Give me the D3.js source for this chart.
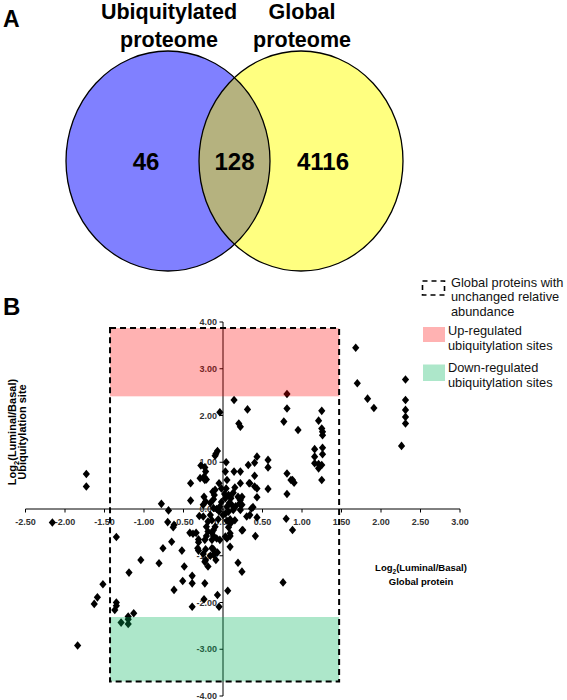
<!DOCTYPE html>
<html><head><meta charset="utf-8">
<script src="https://cdn.jsdelivr.net/npm/d3@7"></script>
<style>body{margin:0;background:#fff} svg{display:block;font-family:"Liberation Sans",Arial,sans-serif}</style>
</head><body><svg id="c" width="567" height="700"></svg>
<script>
// ---------- DATA ----------
const vennSetLabels = [["Ubiquitylated", "proteome"], ["Global", "proteome"]];
const vennCounts = [46, 128, 4116]; // only ubiquitylated, both, only global
const xTicks = [-2.5, -2, -1.5, -1, -0.5, 0, 0.5, 1, 1.5, 2, 2.5, 3];
const yTicks = [-4, -3, -2, -1, 0, 1, 2, 3, 4];
const xValues = [
 1.68,1.70,1.83,1.91,2.31,2.31,2.31,2.31,2.31,2.26,
 0.81,0.81,0.77,0.95,1.25,1.21,1.25,1.26,1.26,1.16,1.26,1.26,1.16,1.16,1.21,1.21,1.25,1.25,0.81,0.86,0.90,0.81,
 0.57,0.57,0.57,0.43,0.40,0.40,0.40,0.43,0.36,0.34,
 -0.04,0.14,0.31,0.20,0.22,
 -0.07,-0.09,-0.10,0.04,-0.28,-0.23,-0.22,-0.29,-0.21,-0.24,0.03,0.14,0.22,0.32,0.33,0.22,0.43,-0.41,-0.41,-0.05,-0.13,-0.11,-0.22,-0.16,-0.25,-0.02,0.04,0.07,0.10,0.03,0.13,0.15,0.19,0.21,0.11,0.05,-0.04,-0.08,0.00,0.07,0.13,0.22,
 -0.78,-0.69,-0.70,-0.62,-0.63,-0.16,-0.14,-0.19,-0.21,-0.10,-0.25,0.09,0.15,0.34,0.43,0.07,0.25,0.05,0.09,-0.04,-0.14,-0.12,-0.42,-0.38,-0.31,-0.23,-0.21,-0.19,0.41,-0.65,-0.76,-0.52,-0.32,-0.22,-0.25,-0.14,-0.11,0.09,0.19,-0.81,-0.49,-0.23,
 -1.73,-1.73,-2.16,-1.35,-0.23,-0.24,-0.12,-0.10,0.05,0.09,0.24,0.22,0.88,0.80,0.88,0.30,-0.12,0.03,0.09,
 -0.34,-0.30,-1.04,-1.19,-1.52,-1.59,-1.63,-1.35,-1.35,-1.37,-1.13,-1.20,-1.20,-1.29,-1.20,-1.84,-0.51,-0.39,-0.39,-0.62,-0.39,-0.23,-0.24,-0.19,-0.22,-0.31,-0.31,-0.14,-0.12,-0.12,-0.09,-0.16,-0.07,-0.08,-0.07,-0.05,0.06,0.24,0.24,0.76,0.38,0.24,0.05,0.10,
 -0.05,-0.02,0.02,0.08,-0.12,0.16,-0.06,0.03
];
const yValues = [
 3.45,2.69,2.36,2.16,2.77,2.33,2.12,1.97,1.83,1.35,
 2.46,2.15,1.87,1.69,2.10,1.89,1.72,1.65,1.58,1.28,1.31,1.17,1.12,0.98,0.96,0.87,0.94,0.62,0.76,0.62,0.56,0.32,
 1.05,0.89,0.43,1.12,0.99,0.71,0.48,0.25,0.01,0.55,
 2.07,2.33,2.13,1.83,1.76,
 1.24,1.18,1.14,1.00,0.93,0.89,0.80,0.66,0.63,0.69,0.80,0.80,0.80,0.94,0.55,0.55,0.44,0.55,0.18,0.55,0.37,0.30,0.16,0.13,0.09,0.44,0.44,0.30,0.23,0.23,0.35,0.46,0.26,0.12,0.09,0.05,0.05,0.00,-0.13,-0.06,-0.02,-0.02,
 0.11,-0.03,-0.28,-0.34,-0.39,-0.13,-0.24,-0.27,-0.38,-0.38,-0.16,-0.22,-0.24,-0.13,-0.18,-0.39,-0.45,-0.63,-0.58,-0.66,-0.51,-0.58,-0.51,-0.53,-0.65,-0.66,-0.58,-0.48,-0.58,-0.70,-0.84,-0.89,-0.84,-0.86,-0.96,-0.84,-0.96,-0.81,-1.15,-1.16,-1.23,-1.13,
 0.75,0.48,-0.29,-0.60,0.62,0.26,0.21,0.41,0.62,0.26,0.26,0.19,0.62,-0.21,-0.45,-0.16,-0.45,-0.59,-0.52,
 -0.51,-0.15,-1.09,-1.36,-1.61,-1.89,-2.03,-2.00,-2.07,-2.16,-2.23,-2.30,-2.36,-2.43,-2.46,-2.92,-1.54,-1.43,-1.59,-1.73,-2.09,-1.59,-1.93,-1.23,-1.09,-0.89,-0.71,-0.66,-0.86,-0.98,-1.09,-1.00,-0.93,-0.63,-1.84,-2.09,-1.75,-1.34,-0.46,-1.57,0.04,0.09,-0.25,-0.30,
 -0.05,0.15,0.32,0.13,0.02,0.06,-0.22,-0.10
];
const boxX = [-1.43, 1.47];   // global proteins with unchanged abundance
const boxY = [-3.69, 3.87];
const upY = [2.41, 3.87];     // up-regulated ubiquitylation sites
const downY = [-3.69, -2.31]; // down-regulated ubiquitylation sites
const legendLabels = [["Global proteins with", "unchanged relative", "abundance"], ["Up-regulated", "ubiquitylation sites"], ["Down-regulated", "ubiquitylation sites"]];

// ---------- DRAW ----------
const svg = d3.select("#c");

// Panel A: Venn
svg.append("text").attr("x", 3).attr("y", 27).attr("font-size", 23).attr("font-weight", "bold").text("A");
const vx = d3.scaleLinear().domain([0, 1]).range([168, 301]);
const cy = 161, rx = 102, ry = 110;
const defs = svg.append("defs");
defs.append("clipPath").attr("id", "clipL").append("ellipse").attr("cx", vx(0)).attr("cy", cy).attr("rx", rx).attr("ry", ry);
svg.append("ellipse").attr("cx", vx(0)).attr("cy", cy).attr("rx", rx).attr("ry", ry).attr("fill", "#8080ff");
svg.append("ellipse").attr("cx", vx(1)).attr("cy", cy).attr("rx", rx).attr("ry", ry).attr("fill", "#ffff80");
svg.append("ellipse").attr("cx", vx(1)).attr("cy", cy).attr("rx", rx).attr("ry", ry).attr("fill", "#b5b27f").attr("clip-path", "url(#clipL)");
[0, 1].forEach(i => svg.append("ellipse").attr("cx", vx(i)).attr("cy", cy).attr("rx", rx).attr("ry", ry).attr("fill", "none").attr("stroke", "#000").attr("stroke-width", 1.3));
vennSetLabels.forEach((lines, i) => {
  const t = svg.append("text").attr("text-anchor", "middle").attr("font-size", 21.5).attr("font-weight", "bold");
  lines.forEach((l, j) => t.append("tspan").attr("x", vx(i) + 1).attr("y", 19 + j * 27.5).text(l));
});
const countPos = [vx(0) - 22, (vx(0) + vx(1)) / 2, vx(1) + 22];
vennCounts.forEach((c, i) => svg.append("text").attr("x", countPos[i]).attr("y", 170).attr("text-anchor", "middle")
  .attr("font-size", 24).attr("font-weight", "bold").text(c));

// Panel B: scatter
svg.append("text").attr("x", 3).attr("y", 315).attr("font-size", 24).attr("font-weight", "bold").text("B");
const x = d3.scaleLinear().domain([-2.5, 3]).range([25.5, 460]);
const y = d3.scaleLinear().domain([-4, 4]).range([696, 322]);

const g = svg.append("g");
// axes
g.append("line").attr("x1", x(-2.5)).attr("x2", x(3)).attr("y1", y(0)).attr("y2", y(0)).attr("stroke", "#000");
g.append("line").attr("x1", x(0)).attr("x2", x(0)).attr("y1", y(4)).attr("y2", y(-4)).attr("stroke", "#000");
xTicks.forEach(v => {
  g.append("line").attr("x1", x(v)).attr("x2", x(v)).attr("y1", y(0)).attr("y2", y(0) + 3.5).attr("stroke", "#000");
  g.append("text").attr("x", x(v)).attr("y", y(0) + 16).attr("text-anchor", "middle").attr("font-size", 9).attr("font-weight", "bold").attr("fill", "#333").text(v.toFixed(2));
});
yTicks.forEach(v => {
  g.append("line").attr("x1", x(0) - 3.5).attr("x2", x(0)).attr("y1", y(v)).attr("y2", y(v)).attr("stroke", "#000");
  g.append("text").attr("x", x(0) - 6).attr("y", y(v)).attr("dy", "0.35em").attr("text-anchor", "end").attr("font-size", 9).attr("font-weight", "bold").attr("fill", "#333").text(v.toFixed(2));
});

// points
const diamond = { draw(ctx, s) { const w = 3.6, h = 4.3; ctx.moveTo(0, -h); ctx.lineTo(w, 0); ctx.lineTo(0, h); ctx.lineTo(-w, 0); ctx.closePath(); } };
g.selectAll("path.pt").data(xValues.map((v, i) => [v, yValues[i]])).join("path").attr("class", "pt")
  .attr("transform", d => `translate(${x(d[0])},${y(d[1])})`).attr("d", d3.symbol().type(diamond)).attr("fill", "#000");

// regions
g.append("rect").attr("x", x(boxX[0])).attr("width", x(boxX[1]) - x(boxX[0])).attr("y", y(upY[1])).attr("height", y(upY[0]) - y(upY[1]))
  .attr("fill", "#ff0000").attr("fill-opacity", 0.3);
g.append("rect").attr("x", x(boxX[0])).attr("width", x(boxX[1]) - x(boxX[0])).attr("y", y(downY[1])).attr("height", y(downY[0]) - y(downY[1]))
  .attr("fill", "rgb(0,180,90)").attr("fill-opacity", 0.32);
g.append("rect").attr("x", x(boxX[0])).attr("width", x(boxX[1]) - x(boxX[0])).attr("y", y(boxY[1])).attr("height", y(boxY[0]) - y(boxY[1]))
  .attr("fill", "none").attr("stroke", "#000").attr("stroke-width", 2).attr("stroke-dasharray", "6,4");

// axis titles
const yt = svg.append("text").attr("transform", "translate(16,432) rotate(-90)").attr("text-anchor", "middle").attr("font-size", 11).attr("font-weight", "bold");
yt.append("tspan").text("Log");
yt.append("tspan").attr("font-size", 7.5).attr("dy", 3).text("2");
yt.append("tspan").attr("dy", -3).text("(Luminal/Basal)");
svg.append("text").attr("transform", "translate(26,432) rotate(-90)").attr("text-anchor", "middle").attr("font-size", 11).attr("font-weight", "bold").text("Ubiquitylation site");

const xt = svg.append("text").attr("x", 421).attr("y", 571).attr("text-anchor", "middle").attr("font-size", 9.5).attr("font-weight", "bold");
xt.append("tspan").text("Log");
xt.append("tspan").attr("font-size", 6.5).attr("dy", 2.5).text("2");
xt.append("tspan").attr("dy", -2.5).text("(Luminal/Basal)");
svg.append("text").attr("x", 421).attr("y", 585).attr("text-anchor", "middle").attr("font-size", 9.5).attr("font-weight", "bold").text("Global protein");

// legend
const lg = svg.append("g");
lg.append("rect").attr("x", 422.5).attr("y", 281).attr("width", 22).attr("height", 14).attr("fill", "none").attr("stroke", "#000").attr("stroke-width", 1.6).attr("stroke-dasharray", "5,4");
lg.append("rect").attr("x", 423).attr("y", 327).attr("width", 22).attr("height", 15).attr("fill", "#ff0000").attr("fill-opacity", 0.3);
lg.append("rect").attr("x", 423).attr("y", 364.5).attr("width", 22).attr("height", 16.5).attr("fill", "rgb(0,180,90)").attr("fill-opacity", 0.32);
const legendY = [286.5, 335, 372];
const legendX = [451, 448, 448];
legendLabels.forEach((lines, i) => {
  const t = lg.append("text").attr("font-size", 12.8).attr("fill", "#111");
  lines.forEach((l, j) => t.append("tspan").attr("x", legendX[i]).attr("y", legendY[i] + j * 14.8).text(l));
});
</script></body></html>
